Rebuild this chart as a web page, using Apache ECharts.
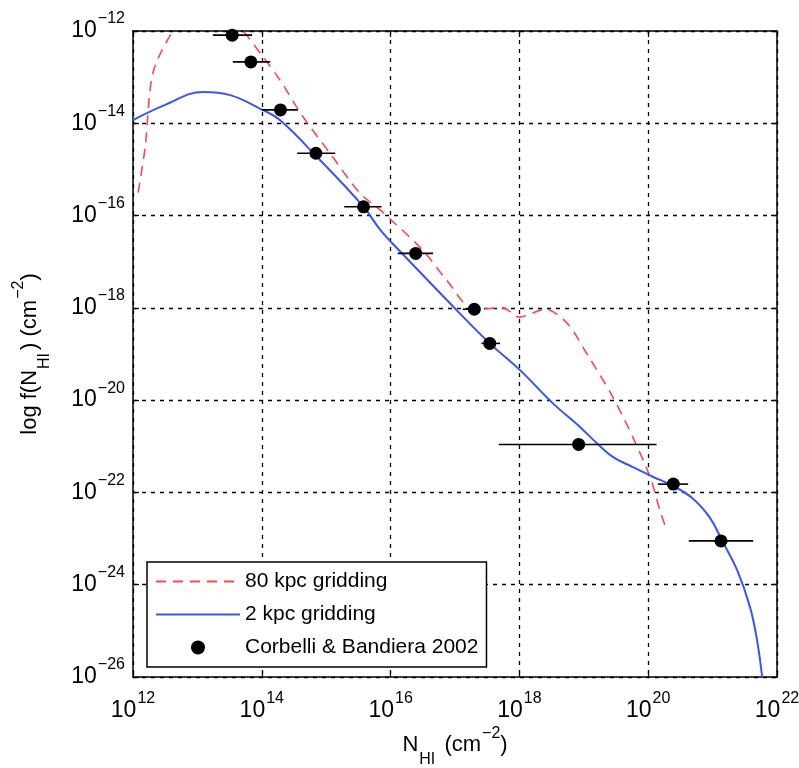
<!DOCTYPE html>
<html>
<head>
<meta charset="utf-8">
<title>f(N_HI)</title>
<script src="https://cdn.jsdelivr.net/npm/echarts/dist/echarts.min.js"></script>
<style>
  html, body { margin: 0; padding: 0; background: #fff; }
  #main { width: 799px; height: 768px; }
</style>
</head>
<body>
<div id="main"></div>
<script>
// all values are log10 (N_HI in cm^-2, f in cm^2)
var xTicks = [12, 14, 16, 18, 20, 22];
var yTicks = [-26, -24, -22, -20, -18, -16, -14, -12];

// Corbelli & Bandiera 2002 points + horizontal error bars
var obsX  = [13.54, 13.83, 14.29, 14.84, 15.58, 16.39, 17.30, 17.54, 18.92, 20.39, 21.13];
var obsY  = [-12.09, -12.67, -13.71, -14.65, -15.81, -16.82, -18.03, -18.77, -20.96, -21.82, -23.05];
var obsLo = [13.24, 13.55, 14.00, 14.55, 15.28, 16.11, 17.12, 17.41, 17.68, 20.15, 20.63];
var obsHi = [13.85, 14.13, 14.56, 15.14, 15.86, 16.66, 17.39, 17.70, 20.13, 20.62, 21.63];

// 2 kpc gridding
var blueX = [12.0, 12.5, 13.09, 13.51, 13.97, 14.28, 14.85, 15.58, 15.84, 16.15, 16.97, 17.54, 18.01, 18.52, 18.94, 19.2, 19.45, 19.76, 20.07, 20.39, 20.70, 20.96, 21.15, 21.38, 21.58, 21.69, 21.77];
var blueY = [-13.93, -13.60, -13.32, -13.39, -13.68, -13.93, -14.72, -15.81, -16.31, -16.78, -17.97, -18.77, -19.35, -20.07, -20.58, -20.93, -21.23, -21.45, -21.66, -21.86, -22.14, -22.55, -23.05, -23.68, -24.48, -25.2, -26.0];

// 80 kpc gridding
var redX = [12.08, 12.19, 12.31, 12.62, 12.9, 13.2, 13.5, 13.71, 14.02, 14.28, 14.64, 15.06, 15.52, 15.84, 16.5, 16.87, 17.30, 17.74, 18.0, 18.4, 18.74, 19.05, 19.45, 19.76, 20.03, 20.18, 20.26];
var redY = [-15.5, -14.51, -12.91, -12.0, -11.6, -11.5, -11.7, -12.0, -12.56, -13.06, -13.86, -14.65, -15.51, -15.88, -16.75, -17.4, -18.03, -18.0, -18.2, -18.03, -18.33, -19.0, -19.93, -20.8, -21.67, -22.38, -22.71];

function zip(a, b) {
    var out = [];
    for (var i = 0; i < a.length; i++) out.push([a[i], b[i]]);
    return out;
}

var font = 'Liberation Sans';
function pow10(v) {
    return '{b|10}{s|' + (v < 0 ? '\u2212' + (-v) : v) + '}';
}
var tickRich = {
    b: { fontSize: 23, lineHeight: 24, verticalAlign: 'middle', fontFamily: font, color: '#000' },
    s: { fontSize: 16, lineHeight: 16, verticalAlign: 'middle', padding: [0, 0, 24, 1], fontFamily: font, color: '#000' }
};
var nameRich = {
    n: { fontSize: 22, lineHeight: 30, verticalAlign: 'middle', fontFamily: font, color: '#000' },
    sub: { fontSize: 16, lineHeight: 16, verticalAlign: 'middle', padding: [30, 3, 0, 1], fontFamily: font, color: '#000' },
    sup: { fontSize: 16, lineHeight: 16, verticalAlign: 'middle', padding: [0, 0, 23, 1], fontFamily: font, color: '#000' }
};

var axisLine = { lineStyle: { color: '#000', width: 1.5 } };
var axisTick = { inside: true, length: 6, lineStyle: { color: '#000', width: 1.2 } };
var gridLine = { show: true, lineStyle: { color: '#000', width: 1.3, type: [4, 5] } };

var myChart = echarts.init(document.getElementById('main'));
myChart.setOption({
    animation: false,
    backgroundColor: '#fff',
    grid: { left: 133, top: 31, right: 22, bottom: 91, containLabel: false, outerBoundsMode: 'none' },
    xAxis: [
        {
            type: 'value', min: 12, max: 22, interval: 2, position: 'bottom',
            axisLine: axisLine, axisTick: axisTick, splitLine: gridLine,
            axisLabel: { margin: 22, formatter: pow10, rich: tickRich },
            name: '{n|N}{sub|HI}{n| (cm}{sup|\u22122}{n|)}',
            nameLocation: 'middle', nameGap: 53, nameMoveOverlap: false,
            nameTextStyle: { rich: nameRich }
        },
        {
            type: 'value', min: 12, max: 22, interval: 2, position: 'top',
            axisLine: axisLine, axisTick: axisTick, splitLine: { show: false },
            axisLabel: { show: false }
        }
    ],
    yAxis: [
        {
            type: 'value', min: -26, max: -12, interval: 2, position: 'left',
            axisLine: axisLine, axisTick: axisTick, splitLine: gridLine,
            axisLabel: { margin: 8, formatter: pow10, rich: tickRich },
            name: '{n|log f(N}{sub|HI}{n|) (cm}{sup|\u22122}{n|)}',
            nameLocation: 'middle', nameGap: 88, nameRotate: 90, nameMoveOverlap: false,
            nameTextStyle: { rich: nameRich }
        },
        {
            type: 'value', min: -26, max: -12, interval: 2, position: 'right',
            axisLine: axisLine, axisTick: axisTick, splitLine: { show: false },
            axisLabel: { show: false }
        }
    ],
    legend: {
        orient: 'vertical',
        left: 147, top: 562,
        data: [
            { name: '80 kpc gridding', itemStyle: { opacity: 0 } },
            { name: '2 kpc gridding', itemStyle: { opacity: 0 } },
            { name: 'Corbelli & Bandiera 2002' }
        ],
        itemWidth: 84, itemHeight: 14, itemGap: 12,
        padding: [9, 8, 9, 8],
        borderColor: '#000', borderWidth: 1.5, backgroundColor: '#fff',
        textStyle: { fontSize: 21, fontFamily: font, color: '#000' }
    },
    series: [
        {
            name: '80 kpc gridding', type: 'line',
            data: zip(redX, redY),
            smooth: 0.3, symbol: 'none', clip: true,
            lineStyle: { color: '#ff4848', width: 1.6, type: [10, 7] },
            itemStyle: { color: '#ff4848' },
            z: 3
        },
        {
            name: '2 kpc gridding', type: 'line',
            data: zip(blueX, blueY),
            smooth: 0.4, symbol: 'none', clip: true,
            lineStyle: { color: '#3a55f5', width: 2 },
            itemStyle: { color: '#3a55f5' },
            z: 4
        },
        {
            name: 'errbars', type: 'custom',
            data: obsLo.map(function (lo, i) { return [lo, obsHi[i], obsY[i]]; }),
            encode: { x: [0, 1], y: 2 },
            renderItem: function (params, api) {
                var p1 = api.coord([api.value(0), api.value(2)]);
                var p2 = api.coord([api.value(1), api.value(2)]);
                return {
                    type: 'line',
                    shape: { x1: p1[0], y1: p1[1], x2: p2[0], y2: p2[1] },
                    style: { stroke: '#000', lineWidth: 1.6 }
                };
            },
            z: 5
        },
        {
            name: 'Corbelli & Bandiera 2002', type: 'scatter',
            data: zip(obsX, obsY),
            symbol: 'circle', symbolSize: 13,
            itemStyle: { color: '#000', opacity: 1 },
            z: 6
        }
    ]
});
</script>
</body>
</html>
